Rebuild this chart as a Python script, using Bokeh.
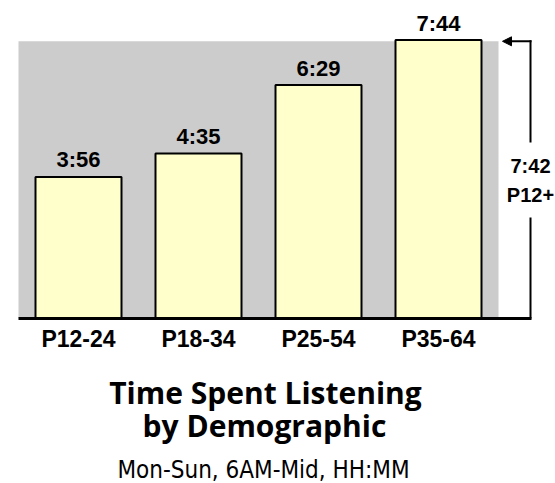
from bokeh.plotting import figure
from bokeh.models import Range1d, FixedTicker, Arrow, NormalHead
from bokeh.core.properties import value
from bokeh.embed import file_html
from bokeh.resources import INLINE

# ---- data ----
categories = ["P12-24", "P18-34", "P25-54", "P35-64"]
tsl_labels = ["3:56", "4:35", "6:29", "7:44"]
tsl_minutes = [236, 275, 389, 464]
avg_label = "7:42"
avg_group = "P12+"
avg_minutes = 462
heading = ["Time Spent Listening", "by Demographic"]
subtitle = "Mon-Sun, 6AM-Mid, HH:MM"

# ---- layout constants (pixels) ----
W, H = 555, 483
PLOT_LEFT = 18        # left edge of the gray band
BASE_Y = 318          # pixel row of the zero line
PX_PER_CAT = 120.0
PX_PER_MIN = 0.6

def ux(px):           # pixel column -> x data
    return (px - PLOT_LEFT) / PX_PER_CAT

def uy(py):           # pixel row -> y data (minutes)
    return (BASE_Y - py) / PX_PER_MIN

BOLD = "Liberation Sans"
COND = "DejaVu Sans Condensed"

p = figure(width=W, height=H, output_backend="svg", toolbar_location=None,
           x_range=Range1d(ux(0), ux(W)), y_range=Range1d(uy(H), uy(0)),
           y_axis_location=None, min_border=0, min_border_left=0,
           min_border_right=0, min_border_top=0, min_border_bottom=0,
           outline_line_color=None)
p.grid.visible = False
p.background_fill_color = "white"
p.border_fill_color = "white"

n = len(categories)
xs = [i + 0.5 for i in range(n)]

# gray band = P12+ average
p.quad(left=[0], right=[n], bottom=[0], top=[avg_minutes],
       fill_color="#cccccc", line_color=None)

# bars
p.vbar(x=xs, top=tsl_minutes, bottom=0, width=86 / PX_PER_CAT,
       fill_color="#ffffcc", line_color="black", line_width=2)

# value labels above each bar
p.text(x=xs, y=[v + 17 / PX_PER_MIN for v in tsl_minutes], text=tsl_labels,
       text_align="center", text_baseline="alphabetic",
       text_font=value(BOLD), text_font_style="bold",
       text_font_size="22px", text_color="black")

# bracket on the right showing the P12+ average
bx = n + 32 / PX_PER_CAT
mid = avg_minutes / 2
gap = 37.5 / PX_PER_MIN
p.segment(x0=[0], x1=[bx + 1 / PX_PER_CAT], y0=[0], y1=[0],
          line_color="black", line_width=3)
p.segment(x0=[bx, bx], x1=[bx, bx], y0=[0, mid + gap],
          y1=[mid - gap, avg_minutes + 1 / PX_PER_MIN],
          line_color="black", line_width=2)
p.add_layout(Arrow(x_start=bx + 1 / PX_PER_CAT, y_start=avg_minutes,
                   x_end=n + 4 / PX_PER_CAT, y_end=avg_minutes,
                   line_color="black", line_width=2,
                   end=NormalHead(size=9, fill_color="black", line_color="black")))
p.text(x=[bx, bx], y=[mid + 14.4 / PX_PER_MIN, mid - 14.6 / PX_PER_MIN],
       text=[avg_label, avg_group], text_align="center", text_baseline="alphabetic",
       text_font=value(BOLD), text_font_style="bold",
       text_font_size="20px", text_color="black")

# category axis at the zero line
ax = p.xaxis[0]
ax.fixed_location = 0
ax.ticker = FixedTicker(ticks=xs)
ax.major_label_overrides = {x: c for x, c in zip(xs, categories)}
ax.axis_line_color = None
ax.major_tick_line_color = None
ax.minor_tick_line_color = None
ax.major_tick_out = 0
ax.major_tick_in = 0
ax.major_label_standoff = 7
ax.major_label_text_font = BOLD
ax.major_label_text_font_style = "bold"
ax.major_label_text_font_size = "23px"
ax.major_label_text_color = "black"

# chart title and subtitle under the axis
p.text(x=[ux(265), ux(264)], y=[uy(392), uy(425)], text=heading,
       text_align="center", text_baseline="alphabetic",
       text_font=value("Open Sans"), text_font_style="bold",
       text_font_size="30px", text_color="black")
p.text(x=[ux(263)], y=[uy(469.5)], text=[subtitle],
       text_align="center", text_baseline="alphabetic",
       text_font=value(COND), text_font_style="normal",
       text_font_size="24px", text_color="black")

open("out.html", "w").write(file_html(p, INLINE))
